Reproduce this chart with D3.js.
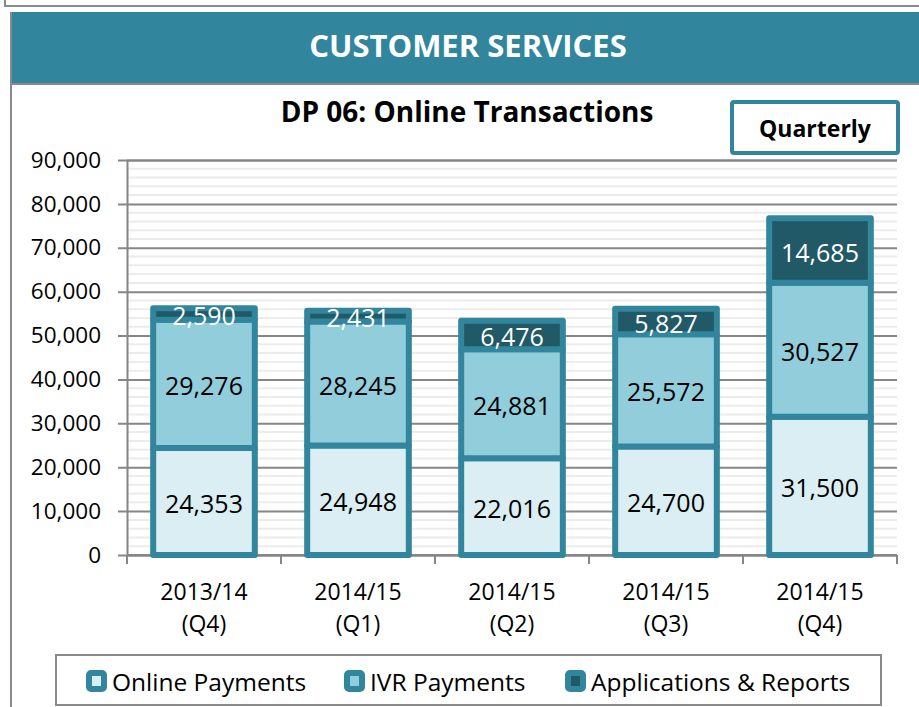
<!DOCTYPE html>
<html lang="en">
<head>
    <meta charset="UTF-8">
    <title>DP 06: Online Transactions</title>
    <style>
        body { margin: 0; background: #fff; }
        svg text { font-family: "Open Sans", sans-serif; }
    </style>
</head>
<body>
    <div id="chart"></div>

    <script src="https://d3js.org/d3.v7.min.js"></script>
    <script>
        const categories = ['2013/14 (Q4)', '2014/15 (Q1)', '2014/15 (Q2)', '2014/15 (Q3)', '2014/15 (Q4)']
        const onlinePayments = [24353, 24948, 22016, 24700, 31500]
        const ivrPayments = [29276, 28245, 24881, 25572, 30527]
        const applications = [2590, 2431, 6476, 5827, 14685]
        const seriesNames = ['Online Payments', 'IVR Payments', 'Applications & Reports']
        const yTicks = [0, 10000, 20000, 30000, 40000, 50000, 60000, 70000, 80000, 90000]

        const teal = '#31859c'
        const fills = ['#daeef3', '#92cddc', '#215967']
        const labelColors = ['#000', '#000', '#fff']

        const width = 919
        const height = 707
        const plot = { left: 127, right: 897, top: 160, bottom: 555 }

        const svg = d3.select('#chart')
            .append('svg')
            .attr('width', width)
            .attr('height', height)

        // frame of the box above and the panel
        svg.append('rect')
            .attr('x', 5).attr('y', -10)
            .attr('width', 930).attr('height', 16)
            .attr('fill', 'none').attr('stroke', '#8a8a8a').attr('stroke-width', 2)
        svg.append('rect')
            .attr('x', 11).attr('y', 12)
            .attr('width', 920).attr('height', 71)
            .attr('fill', teal)
        svg.append('line')
            .attr('x1', 11).attr('x2', 919).attr('y1', 84).attr('y2', 84)
            .attr('stroke', '#8a8a8a').attr('stroke-width', 2)
        svg.append('line')
            .attr('x1', 11).attr('x2', 11).attr('y1', 12).attr('y2', height)
            .attr('stroke', '#8a8a8a').attr('stroke-width', 2)

        svg.append('text')
            .attr('x', 468).attr('y', 45)
            .attr('text-anchor', 'middle').attr('dominant-baseline', 'central')
            .attr('fill', '#fff').attr('font-weight', 'bold').attr('font-size', 31)
            .text('CUSTOMER SERVICES')

        svg.append('text')
            .attr('x', 467).attr('y', 111)
            .attr('text-anchor', 'middle').attr('dominant-baseline', 'central')
            .attr('font-weight', 'bold').attr('font-size', 28)
            .text('DP 06: Online Transactions')

        // Quarterly box
        svg.append('rect')
            .attr('x', 732).attr('y', 102)
            .attr('width', 166).attr('height', 51)
            .attr('rx', 2)
            .attr('fill', '#fff').attr('stroke', teal).attr('stroke-width', 4)
        svg.append('text')
            .attr('x', 815).attr('y', 128)
            .attr('text-anchor', 'middle').attr('dominant-baseline', 'central')
            .attr('font-weight', 'bold').attr('font-size', 23)
            .text('Quarterly')

        const y = d3.scaleLinear()
            .domain([0, 90000])
            .range([plot.bottom, plot.top])

        const x = d3.scaleBand()
            .domain(categories)
            .range([plot.left, plot.right])
            .paddingInner(0.34)
            .paddingOuter(0.17)

        // minor gridlines every 2,000
        svg.append('g')
            .selectAll('line')
            .data(d3.range(2000, 90000, 2000).filter(v => v % 10000 !== 0))
            .join('line')
            .attr('x1', plot.left + 1).attr('x2', plot.right)
            .attr('y1', d => y(d)).attr('y2', d => y(d))
            .attr('stroke', '#ececec').attr('stroke-width', 2)

        // y axis with major gridlines
        const yAxis = svg.append('g')
            .attr('transform', `translate(${plot.left},0)`)
            .call(d3.axisLeft(y)
                .tickValues(yTicks)
                .tickFormat(d3.format(','))
                .tickSize(-(plot.right - plot.left))
                .tickPadding(26))
        yAxis.select('.domain').attr('stroke', '#868686').attr('stroke-width', 2)
        yAxis.selectAll('.tick line')
            .attr('x1', -9)
            .attr('stroke', '#868686').attr('stroke-width', 2)
        yAxis.selectAll('.tick text')
            .attr('font-size', 22.5).attr('fill', '#000')
            .attr('font-family', '"Open Sans", sans-serif')

        // x axis line and category separators
        const step = x.step()
        const boundaries = categories.map(c => x(c) - step * x.paddingInner() / 2)
        boundaries.push(plot.right)
        svg.append('line')
            .attr('x1', plot.left).attr('x2', plot.right)
            .attr('y1', y(0)).attr('y2', y(0))
            .attr('stroke', '#868686').attr('stroke-width', 2)
        svg.append('g')
            .selectAll('line')
            .data(boundaries)
            .join('line')
            .attr('x1', d => d).attr('x2', d => d)
            .attr('y1', y(0)).attr('y2', y(0) + 9)
            .attr('stroke', '#868686').attr('stroke-width', 2)

        // category labels on two lines
        const xLabels = svg.append('g')
            .selectAll('text')
            .data(categories)
            .join('text')
            .attr('text-anchor', 'middle')
            .attr('font-size', 23)
        xLabels.append('tspan')
            .attr('x', d => x(d) + x.bandwidth() / 2)
            .attr('y', 600)
            .text(d => d.split(' ')[0])
        xLabels.append('tspan')
            .attr('x', d => x(d) + x.bandwidth() / 2)
            .attr('y', 632)
            .text(d => d.split(' ')[1])

        // stacked bars
        const table = categories.map((c, i) => ({
            category: c,
            online: onlinePayments[i],
            ivr: ivrPayments[i],
            apps: applications[i]
        }))
        const keys = ['online', 'ivr', 'apps']
        const stacked = d3.stack().keys(keys)(table)

        stacked.forEach((layer, li) => {
            const g = svg.append('g')
            g.selectAll('rect')
                .data(layer)
                .join('rect')
                .attr('x', d => x(d.data.category))
                .attr('width', x.bandwidth())
                .attr('y', d => y(d[1]))
                .attr('height', d => y(d[0]) - y(d[1]))
                .attr('fill', fills[li])
                .attr('stroke', teal)
                .attr('stroke-width', 6)
                .attr('stroke-linejoin', 'round')
        })

        stacked.forEach((layer, li) => {
            svg.append('g')
                .selectAll('text')
                .data(layer)
                .join('text')
                .attr('x', d => x(d.data.category) + x.bandwidth() / 2)
                .attr('y', d => (y(d[0]) + y(d[1])) / 2 + 1)
                .attr('text-anchor', 'middle')
                .attr('dominant-baseline', 'central')
                .attr('font-size', 25)
                .attr('fill', labelColors[li])
                .text(d => d3.format(',')(d[1] - d[0]))
        })

        // legend
        svg.append('rect')
            .attr('x', 56).attr('y', 655)
            .attr('width', 825).attr('height', 50)
            .attr('fill', '#fff').attr('stroke', '#8a8a8a').attr('stroke-width', 2)

        const legendX = [86, 344, 565]
        const legend = svg.append('g')
            .selectAll('g')
            .data(seriesNames)
            .join('g')
            .attr('transform', (d, i) => `translate(${legendX[i]},670)`)
        legend.append('rect')
            .attr('x', 3).attr('y', 3)
            .attr('width', 15).attr('height', 16)
            .attr('rx', 2)
            .attr('fill', (d, i) => fills[i])
            .attr('stroke', teal).attr('stroke-width', 6)
            .attr('stroke-linejoin', 'round')
        legend.append('text')
            .attr('x', 26).attr('y', 11)
            .attr('dominant-baseline', 'central')
            .attr('font-size', 24.5)
            .text(d => d)
    </script>
</body>
</html>
